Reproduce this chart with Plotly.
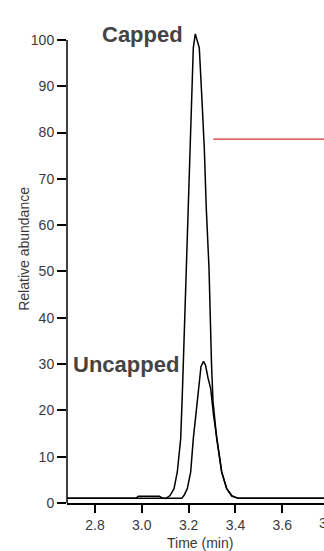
import plotly.graph_objects as go

# ---- data ----
capped_t = [2.68, 2.975, 2.985, 3.075, 3.088, 3.1033, 3.1204, 3.1375, 3.1516, 3.1661, 3.1738,
            3.19, 3.1985, 3.2058, 3.2143, 3.2199, 3.2284, 3.2455, 3.2558, 3.2669, 3.2754,
            3.287, 3.2977, 3.304, 3.3199, 3.3412, 3.3626, 3.385, 3.4121, 3.79]
capped_y = [1.0, 1.0, 1.45, 1.45, 1.1, 1.0, 1.6, 3.1, 6.7, 13.9, 24.7,
            50.7, 63.6, 76.6, 88.2, 98.3, 101.3, 98.3, 88.2, 76.6, 63.6,
            50.7, 30.0, 22.0, 13.9, 6.7, 3.1, 1.5, 1.0, 1.0]

uncapped_t = [2.68, 3.1704, 3.18, 3.1943, 3.2088, 3.2199, 3.2344, 3.2413, 3.2528, 3.2635,
              3.272, 3.2828, 3.2942, 3.3062, 3.3199, 3.3412, 3.3626, 3.385, 3.4121, 3.79]
uncapped_y = [1.0, 1.0, 1.6, 3.1, 6.7, 13.9, 20.7, 24.7, 29.5, 30.6,
              29.8, 27.0, 24.7, 19.0, 13.9, 6.7, 3.1, 1.5, 1.0, 1.0]

ref_t = [3.305, 3.79]
ref_y = [78.6, 78.6]

x_ticks = [2.8, 3.0, 3.2, 3.4, 3.6]
x_tick_labels = ["2.8", "3.0", "3.2", "3.4", "3.6"]
y_ticks = [0, 10, 20, 30, 40, 50, 60, 70, 80, 90, 100]

FONT = "Liberation Sans, Arial, sans-serif"
GRAY = "#3a3a3a"

fig = go.Figure()
fig.add_trace(go.Scatter(x=capped_t, y=capped_y, mode="lines",
                         line=dict(color="black", width=1.5), showlegend=False, hoverinfo="skip"))
fig.add_trace(go.Scatter(x=uncapped_t, y=uncapped_y, mode="lines",
                         line=dict(color="black", width=1.5), showlegend=False, hoverinfo="skip"))
fig.add_trace(go.Scatter(x=ref_t, y=ref_y, mode="lines",
                         line=dict(color="rgb(222,45,50)", width=1.3), showlegend=False, hoverinfo="skip"))

fig.update_layout(
    width=324, height=551,
    margin=dict(l=67, r=0, t=31, b=48, pad=0),
    paper_bgcolor="white", plot_bgcolor="white",
    font=dict(family=FONT, color=GRAY, size=14),
    xaxis=dict(range=[2.6804, 3.7782], tickvals=x_ticks, ticktext=x_tick_labels,
               showgrid=False, zeroline=False, showline=True, linecolor="black", linewidth=1.5,
               ticks="outside", ticklen=8, tickwidth=1.5, tickcolor="black",
               tickfont=dict(size=14, color=GRAY, family=FONT)),
    yaxis=dict(range=[0, 101.94], tickvals=y_ticks,
               showgrid=False, zeroline=False, showline=False,
               ticks="outside", ticklen=9, tickwidth=1.5, tickcolor="black",
               tickfont=dict(size=14, color=GRAY, family=FONT)),
    shapes=[dict(type="line", xref="paper", yref="y", x0=0, x1=0, y0=0, y1=100,
                 line=dict(color="black", width=1.5))],
    annotations=[
        dict(text="Capped", x=3.005, y=101.1, xref="x", yref="y", showarrow=False,
             xanchor="center", yanchor="middle",
             font=dict(size=22, color="#444444", family=FONT, weight="bold")),
        dict(text="Uncapped", x=2.932, y=29.9, xref="x", yref="y", showarrow=False,
             xanchor="center", yanchor="middle",
             font=dict(size=22, color="#444444", family=FONT, weight="bold")),
        dict(text="Relative abundance", x=0, y=54.9, xref="paper", yref="y", xshift=-43,
             textangle=-90, showarrow=False, xanchor="center", yanchor="middle",
             font=dict(size=14, color=GRAY, family=FONT)),
        dict(text="Time (min)", x=3.247, y=0, xref="x", yref="paper", yshift=-40,
             showarrow=False, xanchor="center", yanchor="middle",
             font=dict(size=14, color=GRAY, family=FONT)),
        dict(text="3.8", x=1.0198, y=0, xref="paper", yref="paper", yshift=-20,
             showarrow=False, xanchor="center", yanchor="middle",
             font=dict(size=14, color=GRAY, family=FONT)),
    ],
)

fig.write_html("out.html")
